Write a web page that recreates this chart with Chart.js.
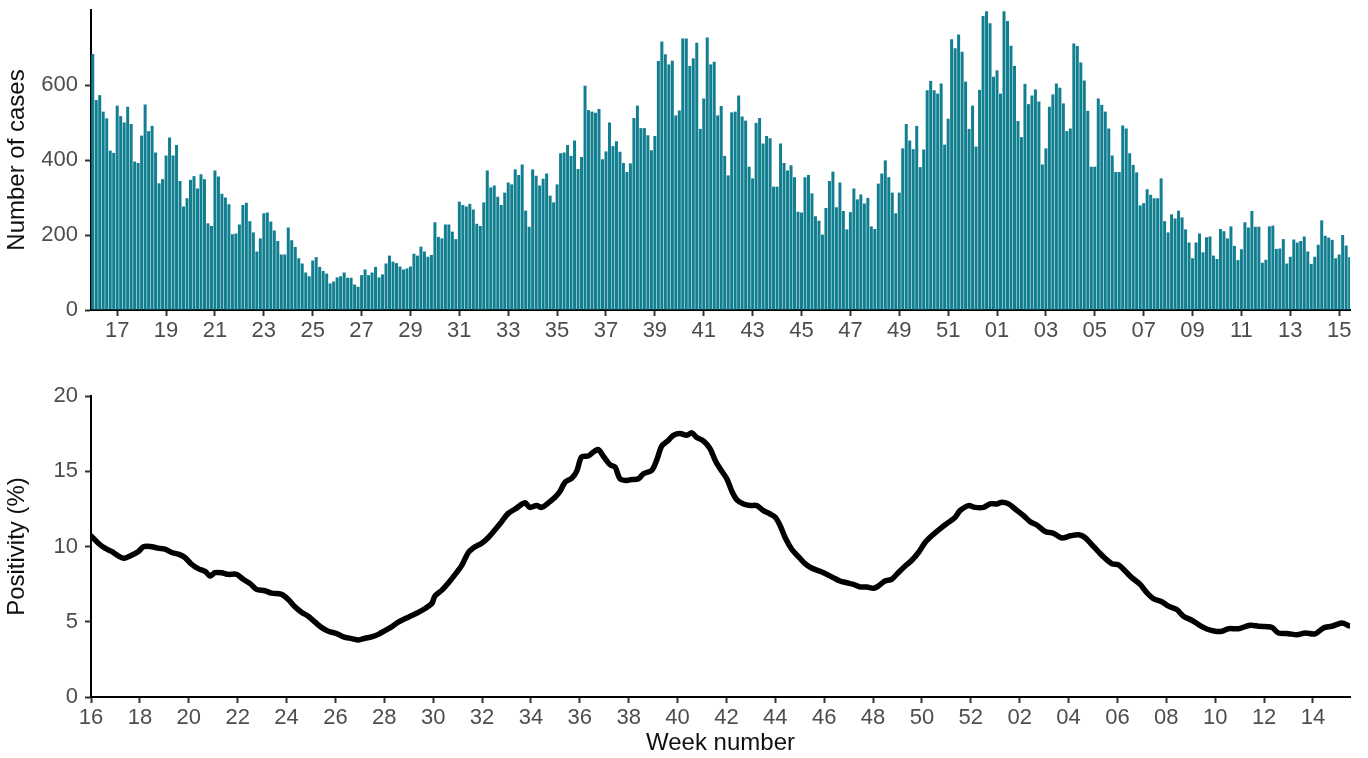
<!DOCTYPE html>
<html>
<head>
<meta charset="utf-8">
<title>Cases and positivity by week</title>
<script src="https://cdn.jsdelivr.net/npm/chart.js@4.4.1/dist/chart.umd.min.js"></script>
<style>
  html, body { margin: 0; padding: 0; background: #ffffff; }
  #wrap { position: relative; width: 1368px; height: 758px; overflow: hidden; }
  .panel { position: absolute; left: 0; width: 1368px; }
  #casesPanel { top: 0; height: 345px; }
  #posPanel { top: 370px; height: 388px; }
</style>
</head>
<body>
<div id="wrap">
  <div class="panel" id="casesPanel"><canvas id="casesChart"></canvas></div>
  <div class="panel" id="posPanel"><canvas id="posChart"></canvas></div>
</div>
<script>
// Daily number of cases, one value per day starting on the first day of week 16
const dailyCases = [
  683, 560, 573, 529, 511, 425, 419, 545, 517, 500, 542, 496, 396, 392, 465, 548, 477, 491, 420, 338,
  349, 412, 460, 412, 440, 344, 276, 298, 347, 357, 324, 362, 349, 231, 224, 372, 356, 310, 300, 282,
  202, 204, 228, 280, 286,
  237, 207, 156, 191, 258, 260, 236, 212, 184, 148, 148, 220, 186, 168, 138, 124, 100, 90, 132, 141,
  115, 104, 97, 71, 76, 87, 90, 100, 86, 86, 68, 62, 93, 108, 93, 100, 115, 87, 95, 124,
  145, 129, 125, 116, 108,
  111, 116, 150, 145, 169, 156, 142, 147, 234, 195, 191, 228, 228, 209, 189, 289, 280, 276, 283, 268,
  230, 224, 287, 372, 327, 332, 302, 280, 313, 340, 335, 375, 360, 388, 265, 222, 375, 358, 332, 350,
  364, 305, 287, 335, 418,
  420, 440, 411, 452, 376, 408, 598, 533, 529, 526, 536, 402, 423, 500, 437, 450, 422, 392, 368, 391,
  512, 545, 485, 485, 466, 426, 464, 664, 716, 682, 655, 665, 519, 532, 724, 724, 651, 671, 713, 483,
  564, 727, 655, 662, 519, 544,
  411, 359, 527, 529, 572, 516, 505, 382, 351, 499, 512, 444, 464, 458, 329, 329, 444, 392, 372, 386,
  354, 262, 260, 354, 360, 311, 250, 238, 201, 272, 344, 369, 274, 340, 264, 215, 261, 324, 295, 308,
  284, 299, 223, 216, 337, 364,
  399, 354, 313, 258, 313, 431, 496, 452, 429, 491, 381, 428, 586, 611, 586, 577, 604, 441, 510, 722,
  698, 735, 689, 609, 483, 545, 436, 587, 784, 797, 765, 622, 639, 577, 797, 771, 705, 651, 504, 461,
  603, 549, 572, 588, 556,
  388, 431, 542, 575, 604, 593, 551, 477, 484, 711, 704, 660, 612, 531, 382, 382, 564, 547, 529, 484,
  412, 368, 368, 492, 484, 418, 387, 367, 279, 285, 322, 307, 298, 298, 351, 237, 207, 255, 244, 265,
  247, 215, 180, 138, 180,
  204, 154, 194, 196, 145, 136, 216, 210, 191, 223, 171, 133, 162, 234, 220, 264, 222, 222, 126, 134,
  223, 225, 163, 164, 189, 124, 142, 188, 180, 184, 196, 156, 123, 142, 174, 239, 198, 193, 187, 138,
  148, 200, 172, 141
];

// Test positivity (%): day offset from the start of week 16, and the value on that day
const positivityDays = [
  0, 2.1, 4.0, 5.9, 7.8, 9.5, 11.6, 13.6, 15.0, 16.9, 19.3, 21.2, 23.1, 25.0, 26.9, 28.8, 30.7, 32.7, 34.1, 35.5,
  37.4, 39.3, 41.7, 43.6, 45.5, 47.4, 49.8, 51.7, 54.6, 56.5, 58.4, 60.3, 62.2, 64.2, 66.1, 68.0, 70.4, 72.3, 74.7, 76.6,
  78.5, 80.4, 82.3, 84.2, 86.2, 88.0, 90.0, 91.9, 93.8, 95.7, 97.6, 98.5, 100.5, 102.4, 104.3, 106.2, 108.1, 110.0, 111.9, 113.8,
  115.7, 117.6, 119.5, 121.5, 124.3, 125.7, 127.6, 129.1, 131.0, 132.9, 134.3, 135.8, 137.7, 139.1, 140.5, 142.4, 143.9, 145.3, 146.7, 148.7,
  150.1, 151.5, 153.4, 154.9, 156.8, 158.2, 160.6, 162.0, 163.5, 165.4, 166.8, 168.7, 170.6, 172.1, 173.5, 175.4, 177.3, 178.8, 180.2, 182.1,
  183.6, 185.0, 186.9, 188.8, 190.7, 192.6, 194.5, 196.0, 197.4, 198.8, 200.7, 202.6, 204.5, 206.4, 208.8, 210.7, 212.6, 214.5, 216.5, 218.4,
  220.3, 222.2, 224.1, 225.5, 227.4, 229.3, 231.2, 233.2, 235.1, 237.0, 238.9, 240.8, 243.7, 245.6, 247.5, 248.9, 251.3, 253.2, 255.6, 257.5,
  259.4, 260.9, 262.8, 264.7, 267.1, 269.0, 270.9, 273.3, 275.7, 278.1, 280.5, 282.9, 284.7, 286.7, 288.6, 290.5, 292.4, 294.3, 296.2, 298.1,
  300.5, 302.4, 304.3, 306.7, 308.6, 311.0, 312.9, 315.3, 317.7, 319.6, 322.0, 323.9, 325.8, 328.7, 332.0, 334.4, 338.2, 340.1, 343.0, 345.4,
  347.8, 350.6, 353.0, 355.4, 358.3, 360.2
];
const positivityValues = [
  10.71, 10.22, 9.89, 9.67, 9.38, 9.22, 9.42, 9.67, 9.98, 10.0, 9.89, 9.82, 9.6, 9.49, 9.27, 8.82, 8.53, 8.35, 8.04, 8.26,
  8.26, 8.15, 8.15, 7.82, 7.55, 7.15, 7.06, 6.9, 6.82, 6.48, 5.99, 5.63, 5.37, 4.97, 4.61, 4.37, 4.21, 3.99, 3.88, 3.79,
  3.9, 3.99, 4.16, 4.41, 4.68, 4.97, 5.21, 5.41, 5.63, 5.88, 6.21, 6.7, 7.1, 7.59, 8.15, 8.75, 9.6, 9.98, 10.22, 10.6,
  11.11, 11.65, 12.2, 12.49, 12.9, 12.6, 12.72, 12.6, 12.9, 13.27, 13.65, 14.28, 14.54, 14.99, 15.95, 16.01, 16.28, 16.44, 16.01, 15.43,
  15.28, 14.5, 14.39, 14.45, 14.5, 14.83, 15.06, 15.72, 16.68, 17.06, 17.39, 17.51, 17.39, 17.55, 17.24, 17.02, 16.5, 15.72, 15.17, 14.5,
  13.65, 13.1, 12.83, 12.72, 12.72, 12.38, 12.16, 11.94, 11.38, 10.6, 9.82, 9.33, 8.86, 8.57, 8.35, 8.15, 7.93, 7.71, 7.59, 7.48,
  7.31, 7.31, 7.22, 7.37, 7.71, 7.82, 8.26, 8.71, 9.09, 9.6, 10.27, 10.71, 11.27, 11.6, 11.94, 12.38, 12.72, 12.6, 12.6, 12.83,
  12.83, 12.94, 12.83, 12.49, 12.05, 11.65, 11.43, 11.0, 10.87, 10.56, 10.71, 10.78, 10.6, 10.11, 9.64, 9.2, 8.86, 8.78, 8.37, 7.93,
  7.48, 6.93, 6.53, 6.33, 6.04, 5.81, 5.37, 5.1, 4.74, 4.52, 4.37, 4.37, 4.54, 4.54, 4.77, 4.7, 4.63, 4.25, 4.21, 4.14,
  4.25, 4.19, 4.59, 4.7, 4.92, 4.74
];

// Week labels under each panel (odd weeks on the cases panel, even weeks on the positivity panel)
const caseWeekLabels = ['17','19','21','23','25','27','29','31','33','35','37','39','41','43','45','47','49','51',
                        '01','03','05','07','09','11','13','15'];
const posWeekLabels = ['16','18','20','22','24','26','28','30','32','34','36','38','40','42','44','46','48','50','52',
                       '02','04','06','08','10','12','14'];
// Day offsets at which those labels sit
const caseTickDays = caseWeekLabels.map((_, k) => 7 + 14 * k);
const posTickDays = posWeekLabels.map((_, k) => 14 * k);

const caseAxisTicks = [0, 200, 400, 600];
const posAxisTicks = [0, 5, 10, 15, 20];

const FONT = "'Liberation Sans', Arial, Helvetica, sans-serif";
const BAR_COLOR = '#127f91';
const TICK_FONT = { family: FONT, size: 22 };
const TITLE_FONT = { family: FONT, size: 24 };
const TICK_COLOR = '#4d4d4d';

function xAxisCommon(tickDays, labels, min, max, height) {
  return {
    type: 'linear',
    min: min,
    max: max,
    offset: false,
    afterBuildTicks: (s) => { s.ticks = tickDays.map(v => ({ value: v })); },
    afterFit: (s) => { s.height = height; s.paddingLeft = 0; s.paddingRight = 0; },
    ticks: {
      autoSkip: false,
      maxRotation: 0,
      padding: 2,
      color: TICK_COLOR,
      font: TICK_FONT,
      callback: (v, i) => labels[i]
    },
    grid: { offset: false, drawOnChartArea: false, drawTicks: true, tickLength: 6, tickColor: '#333333', tickWidth: 2 },
    border: { display: true, color: '#000000', width: 2 }
  };
}

function yAxisCommon(tickValues, min, max, titleText) {
  return {
    min: min,
    max: max,
    afterBuildTicks: (s) => { s.ticks = tickValues.map(v => ({ value: v })); },
    afterFit: (s) => { s.width = 91; s.paddingTop = 0; s.paddingBottom = 0; },
    ticks: { padding: 7, color: TICK_COLOR, font: TICK_FONT },
    grid: { drawOnChartArea: false, drawTicks: true, tickLength: 6, tickColor: '#333333', tickWidth: 2 },
    border: { display: true, color: '#000000', width: 2 },
    title: { display: true, text: titleText, color: '#111111', font: TITLE_FONT, padding: { top: 3, bottom: 0 } }
  };
}

// Daily cases
new Chart(document.getElementById('casesChart'), {
  type: 'bar',
  data: {
    datasets: [{
      data: dailyCases.map((v, i) => ({ x: i, y: v })),
      backgroundColor: BAR_COLOR,
      borderWidth: 0,
      barPercentage: 0.86,
      categoryPercentage: 1.0
    }]
  },
  options: {
    responsive: true,
    maintainAspectRatio: false,
    animation: false,
    layout: { padding: { top: 10, right: 18, bottom: 0, left: 0 } },
    plugins: { legend: { display: false }, tooltip: { enabled: false } },
    scales: {
      x: xAxisCommon(caseTickDays, caseWeekLabels, -0.5, 360.1, 35),
      y: yAxisCommon(caseAxisTicks, 0, 800, 'Number of cases')
    }
  }
});

// Positivity
const posX = xAxisCommon(posTickDays, posWeekLabels, 0, 360.6, 61);
posX.title = { display: true, text: 'Week number', color: '#111111', font: TITLE_FONT, padding: { top: 0, bottom: 0 } };

new Chart(document.getElementById('posChart'), {
  type: 'line',
  data: {
    datasets: [{
      data: positivityDays.map((d, i) => ({ x: d, y: positivityValues[i] })),
      borderColor: '#000000',
      borderWidth: 5.5,
      pointRadius: 0,
      tension: 0.3,
      fill: false,
      borderCapStyle: 'round',
      borderJoinStyle: 'round'
    }]
  },
  options: {
    responsive: true,
    maintainAspectRatio: false,
    animation: false,
    layout: { padding: { top: 26, right: 18, bottom: 0, left: 0 } },
    plugins: { legend: { display: false }, tooltip: { enabled: false } },
    scales: {
      x: posX,
      y: yAxisCommon(posAxisTicks, 0, 20, 'Positivity (%)')
    }
  }
});
</script>
</body>
</html>
